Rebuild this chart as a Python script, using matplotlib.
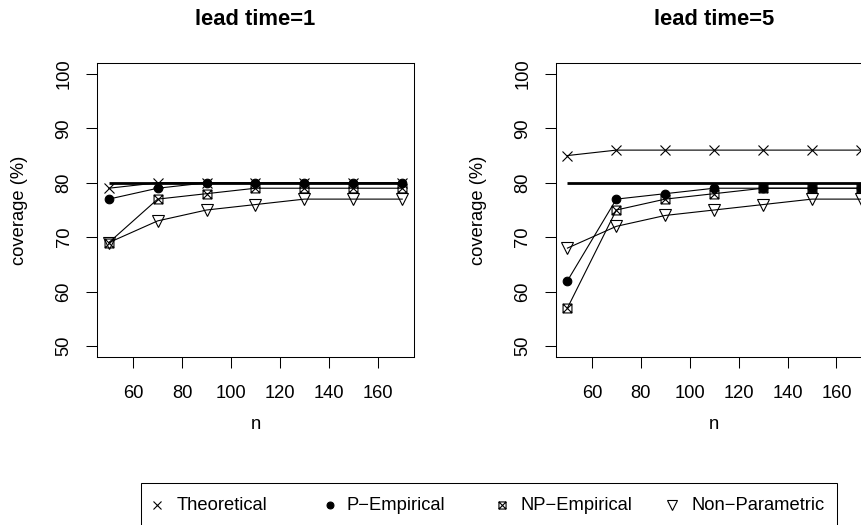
import matplotlib
matplotlib.use('Agg')
import matplotlib.pyplot as plt
from matplotlib.path import Path
from matplotlib.lines import Line2D
from matplotlib.patches import Rectangle

plt.rcParams['font.family'] = ['Liberation Sans', 'DejaVu Sans']

# sample sizes and nominal coverage level
n = [50, 70, 90, 110, 130, 150, 170]
nominal = 80

# coverage (%) for lead time 1
lt1_theoretical = [79, 80, 80, 80, 80, 80, 80]
lt1_p_empirical = [77, 79, 80, 80, 80, 80, 80]
lt1_np_empirical = [69, 77, 78, 79, 79, 79, 79]
lt1_nonparametric = [69, 73, 75, 76, 77, 77, 77]

# coverage (%) for lead time 5
lt5_theoretical = [85, 86, 86, 86, 86, 86, 86]
lt5_p_empirical = [62, 77, 78, 79, 79, 79, 79]
lt5_np_empirical = [57, 75, 77, 78, 79, 79, 79]
lt5_nonparametric = [68, 72, 74, 75, 76, 77, 77]

method_names = ['Theoretical', 'P\u2212Empirical', 'NP\u2212Empirical', 'Non\u2212Parametric']
xticks = [60, 80, 100, 120, 140, 160]
yticks = [50, 60, 70, 80, 90, 100]

W, H = 862, 525

# square with a cross inside (R's pch 7)
boxcross = Path(
    [(-1, -1), (1, -1), (1, 1), (-1, 1), (-1, -1),
     (-1, -1), (1, 1), (-1, 1), (1, -1)],
    [Path.MOVETO, Path.LINETO, Path.LINETO, Path.LINETO, Path.CLOSEPOLY,
     Path.MOVETO, Path.LINETO, Path.MOVETO, Path.LINETO])

styles = [
    dict(marker='x', markersize=7, markerfacecolor='none'),
    dict(marker='o', markersize=6.2, markerfacecolor='black'),
    dict(marker=boxcross, markersize=6.4, markerfacecolor='none'),
    dict(marker='v', markersize=8.5, markerfacecolor='none'),
]


def px_box(left, top, width, height):
    return [left / W, 1 - (top + height) / H, width / W, height / H]


def coverage_panel(ax, title, series):
    ax.hlines(nominal, n[0], n[-1], color='black', lw=2)
    for vals, st in zip(series, styles):
        ax.plot(n, vals, color='black', lw=0.8, markeredgecolor='black',
                markeredgewidth=0.8, **st)
    ax.set_xlim(45.2, 174.8)
    ax.set_ylim(48, 102)
    ax.set_xticks(xticks)
    ax.set_yticks(yticks)
    ax.tick_params(direction='out', length=7.8, width=0.75, labelsize=13.2,
                   colors='black')
    ax.tick_params(axis='x', pad=12.3)
    ax.tick_params(axis='y', pad=9.8)
    plt.setp(ax.get_yticklabels(), rotation=90, va='center')
    for sp in ax.spines.values():
        sp.set_linewidth(0.75)
    ax.set_title(title, fontsize=15.8, fontweight='bold', pad=27.4)
    ax.set_xlabel('n', fontsize=13.2, va='center')
    ax.xaxis.set_label_coords(0.5, -0.231)
    ax.set_ylabel('coverage (%)', fontsize=13.2, va='center')
    ax.yaxis.set_label_coords(-0.243, 0.5)


fig = plt.figure(figsize=(W / 100, H / 100), dpi=100)
ax1 = fig.add_axes(px_box(97, 63, 317, 294))
ax2 = fig.add_axes(px_box(555.7, 63, 317, 294))

coverage_panel(ax1, 'lead time=1',
               [lt1_theoretical, lt1_p_empirical, lt1_np_empirical, lt1_nonparametric])
coverage_panel(ax2, 'lead time=5',
               [lt5_theoretical, lt5_p_empirical, lt5_np_empirical, lt5_nonparametric])

# horizontal legend below the panels
fig.add_artist(Rectangle((140.7 / W, 1 - 528 / H), (837 - 140.7) / W, (528 - 482.5) / H,
                         transform=fig.transFigure, fill=False, lw=0.75,
                         edgecolor='black'))
marker_x = [157, 330, 502, 672]
text_x = [177, 347, 520, 692]
leg_y = 1 - 505 / H
for name, st, mx, tx in zip(method_names, styles, marker_x, text_x):
    st = dict(st)
    st['markersize'] *= 0.8
    fig.add_artist(Line2D([mx / W], [leg_y], transform=fig.transFigure,
                          color='black', markeredgecolor='black',
                          markeredgewidth=0.8, linestyle='none', **st))
    fig.text(tx / W, leg_y, name, fontsize=13.2, va='center', ha='left')

fig.savefig('out.png', dpi=100)
